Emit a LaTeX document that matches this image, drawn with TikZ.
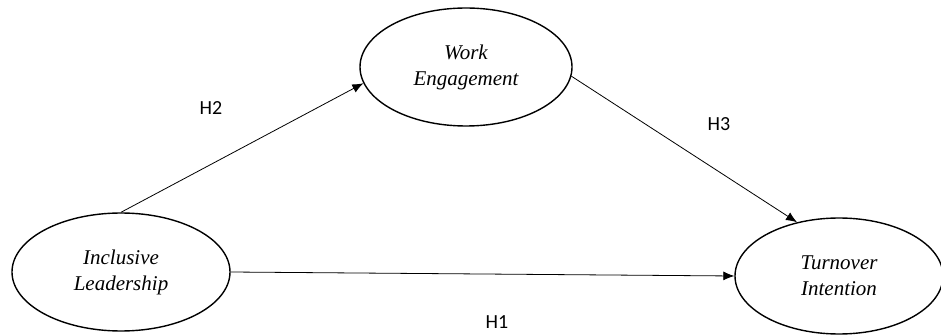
\documentclass[tikz,border=0pt]{standalone}
\usepackage{fontspec}
\setmainfont{Liberation Serif}
\newfontfamily\labelfont{Carlito}
\usetikzlibrary{arrows.meta,shapes.geometric}

\begin{document}
\begin{tikzpicture}[x=1pt,y=-1pt,>={Latex[length=11pt,width=9pt]}]
  \tikzstyle{construct}=[draw,ellipse,line width=1.4pt,align=center,minimum width=218pt,minimum height=118pt,inner sep=0pt,font=\fontsize{21}{26}\selectfont\itshape]
  \tikzstyle{hyp}=[font=\labelfont\fontsize{20}{24}\selectfont]
  \useasboundingbox (0,0) rectangle (941,336);
  \node[construct] (incl) at (121,272) {Inclusive\\Leadership};
  \node[construct,minimum width=212pt] (engage) at (466,67) {Work\\Engagement};
  \node[construct,minimum width=208pt,minimum height=116pt] (turnover) at (839,276) {Turnover\\Intention};
  \draw[->,line width=0.8pt] (incl.north) -- (engage.189);
  \draw[->,line width=0.8pt] (engage.355) -- (turnover.128);
  \draw[->,line width=0.8pt] (incl.east) -- (turnover.west);
  % hypothesis labels
  \node[hyp] (h2) at (211,108) {H2};
  \node[hyp] (h3) at (719,124) {H3};
  \node[hyp] (h1) at (497,322) {H1};
\end{tikzpicture}
\end{document}
